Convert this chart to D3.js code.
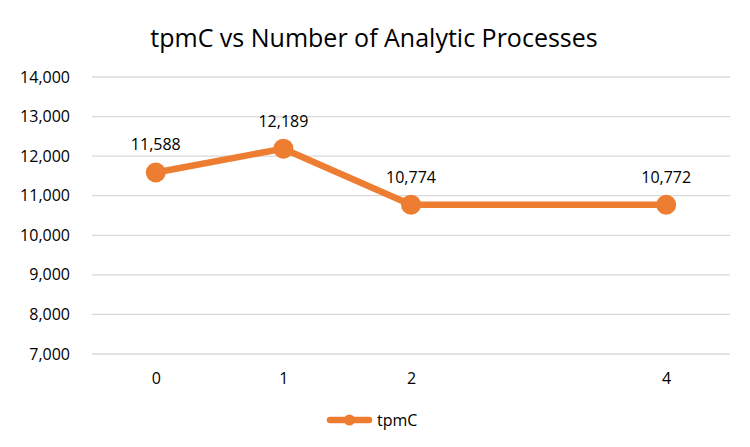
<!DOCTYPE html>
<html>
<head>
<meta charset="utf-8">
<script src="https://cdn.jsdelivr.net/npm/d3@7"></script>
<style>
  body { margin: 0; background: #fff; }
  text { font-family: "Open Sans", "Noto Sans", sans-serif; fill: #000; }
</style>
</head>
<body>
<div id="chart"></div>
<script>
var svgWidth = 750;
var svgHeight = 447;

// data
var processes = [0, 1, 2, 4];
var tpmC = [11588, 12189, 10774, 10772];
var yTicks = [7000, 8000, 9000, 10000, 11000, 12000, 13000, 14000];

var margin = { top: 77, right: 20, bottom: 93, left: 92 };
var width = 730 - margin.left;
var height = 354 - margin.top;

var svg = d3.select("#chart")
  .append("svg")
  .attr("width", svgWidth)
  .attr("height", svgHeight);

var color = "#ED7D31";

// title
svg.append("text")
  .attr("x", 374)
  .attr("y", 47)
  .attr("text-anchor", "middle")
  .style("font-size", "25px")
  .text("tpmC vs Number of Analytic Processes");

var chartGroup = svg.append("g")
  .attr("transform", `translate(${margin.left}, ${margin.top})`);

var xScale = d3.scaleLinear()
  .domain([-0.5, 4.5])
  .range([0, width]);

var yScale = d3.scaleLinear()
  .domain([7000, 14000])
  .range([height, 0]);

// gridlines
chartGroup.selectAll(".grid")
  .data(yTicks)
  .enter()
  .append("line")
  .attr("x1", 0)
  .attr("x2", width)
  .attr("y1", d => yScale(d))
  .attr("y2", d => yScale(d))
  .attr("stroke", "#d9d9d9")
  .attr("stroke-width", 1.3);

// y axis
var leftAxis = d3.axisLeft(yScale)
  .tickValues(yTicks)
  .tickSize(0)
  .tickPadding(22)
  .tickFormat(d3.format(","));
var yAxis = chartGroup.append("g").call(leftAxis);
yAxis.select(".domain").remove();
yAxis.selectAll("text").style("font-size", "16px");

// x axis
var bottomAxis = d3.axisBottom(xScale)
  .tickValues(processes)
  .tickSize(0)
  .tickPadding(19)
  .tickFormat(d3.format("d"));
var xAxis = chartGroup.append("g")
  .attr("transform", `translate(0, ${height})`)
  .call(bottomAxis);
xAxis.select(".domain").remove();
xAxis.selectAll("text").style("font-size", "16px");

var data = processes.map((p, i) => ({ p: p, v: tpmC[i] }));

// line
var line = d3.line()
  .x(d => xScale(d.p))
  .y(d => yScale(d.v));

chartGroup.append("path")
  .datum(data)
  .attr("d", line)
  .attr("fill", "none")
  .attr("stroke", color)
  .attr("stroke-width", 6.5)
  .attr("stroke-linejoin", "round");

chartGroup.selectAll(".dot")
  .data(data)
  .enter()
  .append("circle")
  .attr("cx", d => xScale(d.p))
  .attr("cy", d => yScale(d.v))
  .attr("r", 10)
  .attr("fill", color);

// data labels
chartGroup.selectAll(".lbl")
  .data(data)
  .enter()
  .append("text")
  .attr("x", d => xScale(d.p))
  .attr("y", d => yScale(d.v) - 22)
  .attr("text-anchor", "middle")
  .style("font-size", "16px")
  .text(d => d3.format(",")(d.v));

// legend
var legend = svg.append("g").attr("transform", "translate(330, 420)");
legend.append("line")
  .attr("x1", 0).attr("x2", 39)
  .attr("y1", 0).attr("y2", 0)
  .attr("stroke", color)
  .attr("stroke-width", 6.5)
  .attr("stroke-linecap", "round");
legend.append("circle")
  .attr("cx", 19.5).attr("cy", 0).attr("r", 5.5)
  .attr("fill", color);
legend.append("text")
  .attr("x", 47).attr("y", 6)
  .style("font-size", "16px")
  .text("tpmC");
</script>
</body>
</html>
